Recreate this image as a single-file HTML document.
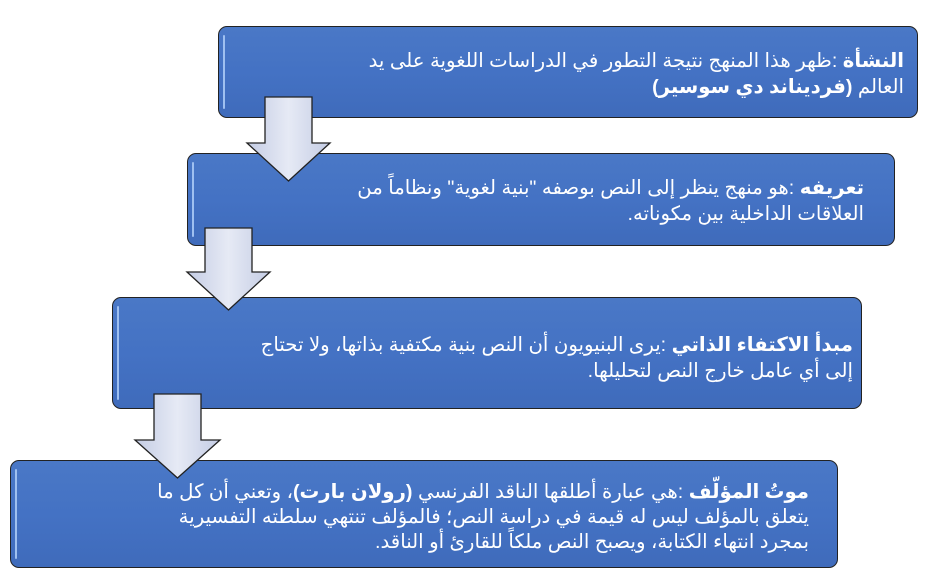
<!DOCTYPE html>
<html><head><meta charset="utf-8"><style>
body{margin:0;width:943px;height:581px;background:#fff;position:relative;overflow:hidden;font-family:"Liberation Sans","DejaVu Sans",sans-serif;}
.b{position:absolute;background:linear-gradient(#4a78c6,#4472c4 50%,#3f6bbb);border:1.5px solid #222;border-radius:9px;box-sizing:border-box;color:#fff;direction:rtl;text-align:right;font-size:19.7px;line-height:26px;white-space:nowrap;}
.b::before{content:"";position:absolute;left:4px;top:8px;bottom:8px;width:2px;background:#9fc0f0;border-radius:1px;}
.b b{font-weight:bold;}
svg{position:absolute;left:0;top:0;}
</style></head><body>
<div class="b" style="left:218px;top:26px;width:700px;height:92px;padding:21px 13px 0 10px;"><b>النشأة</b> :ظهر هذا المنهج نتيجة التطور في الدراسات اللغوية على يد<br>العالم <b>(فرديناند دي سوسير)</b></div>
<div class="b" style="left:187px;top:153px;width:708px;height:93px;padding:21px 30px 0 10px;"><b>تعريفه</b> :هو منهج ينظر إلى النص بوصفه "بنية لغوية" ونظاماً من<br>العلاقات الداخلية بين مكوناته.</div>
<div class="b" style="left:112px;top:297px;width:750px;height:112px;padding:34px 8px 0 10px;"><b>مبدأ الاكتفاء الذاتي</b> :يرى البنيويون أن النص بنية مكتفية بذاتها، ولا تحتاج<br>إلى أي عامل خارج النص لتحليلها.</div>
<div class="b" style="left:10px;top:460px;width:828px;height:108px;padding:19px 28px 0 10px;line-height:25px;"><b>موتُ المؤلّف</b> :هي عبارة أطلقها الناقد الفرنسي <b>(رولان بارت)</b>، وتعني أن كل ما<br>يتعلق بالمؤلف ليس له قيمة في دراسة النص؛ فالمؤلف تنتهي سلطته التفسيرية<br>بمجرد انتهاء الكتابة، ويصبح النص ملكاً للقارئ أو الناقد.</div>
<svg width="943" height="581">
<defs><linearGradient id="g" x1="0" x2="1"><stop offset="0" stop-color="#c4cce4"/><stop offset=".5" stop-color="#e6eaf5"/><stop offset="1" stop-color="#c4cce4"/></linearGradient></defs>
<g fill="url(#g)" stroke="#222" stroke-width="1.3">
<path d="M265 97H312V143H330L288.5 181L247 143H265Z"/>
<path d="M205 228H252V272H270L228.5 310L187 272H205Z"/>
<path d="M154 394H201V440H220L177.5 478L135 440H154Z"/>
</g>
</svg>
</body></html>
